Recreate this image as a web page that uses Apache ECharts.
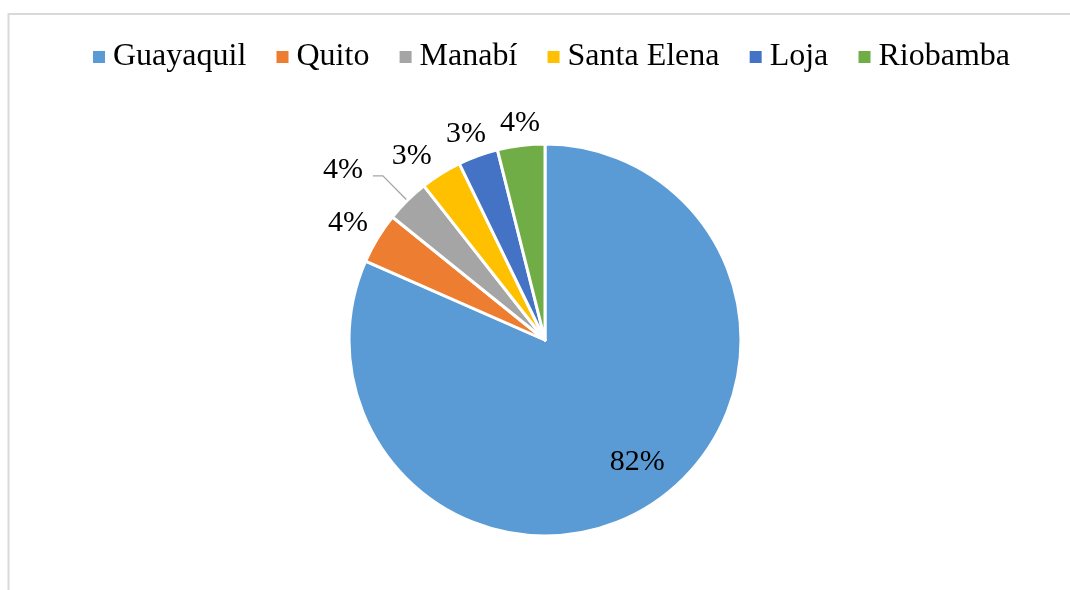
<!DOCTYPE html>
<html>
<head>
<meta charset="utf-8">
<script src="https://cdn.jsdelivr.net/npm/echarts@6/dist/echarts.min.js"></script>
<style>
html,body{margin:0;padding:0;background:#fff;}
#chart{width:1070px;height:590px;}
</style>
</head>
<body>
<div id="chart"></div>
<script>
// Data
const categories = ['Guayaquil', 'Quito', 'Manabí', 'Santa Elena', 'Loja', 'Riobamba'];
const shares = [81.6, 4.2, 3.6, 3.4, 3.3, 3.9];
const colors = ['#5B9BD5', '#ED7D31', '#A5A5A5', '#FFC000', '#4472C4', '#70AD47'];

// Label placement styles (per slice)
const labelLineLength = [0, 30.9, 34.7, 22.2, 24.2, 24.5];
const labelLineLength2 = [0, -21.8, 10, -7.6, -21.3, -26.9];
const labelShiftX = [37, 0, 0, 0, 0, 0];
const labelShiftY = [38, 1.5, -6, 1.5, 1.5, 1.5];

const chart = echarts.init(document.getElementById('chart'), null, {renderer: 'canvas'});

const data = categories.map((name, i) => {
  const item = {
    name: name,
    value: shares[i],
    itemStyle: {color: colors[i]}
  };
  if (i === 0) {
    item.label = {position: 'inside'};
    item.labelLine = {show: false};
  } else if (name === 'Manabí') {
    item.label = {position: 'outside', distanceToLabelLine: 10};
    item.labelLine = {show: true, length: labelLineLength[i], length2: labelLineLength2[i],
      lineStyle: {color: '#A5A5A5', width: 1.3}};
  } else {
    item.label = {position: 'outside'};
    item.labelLine = {show: false, length: labelLineLength[i], length2: labelLineLength2[i]};
  }
  return item;
});

chart.setOption({
  animation: false,
  backgroundColor: '#ffffff',
  graphic: [{
    type: 'rect',
    shape: {x: 8.5, y: 14, width: 1100, height: 620},
    style: {fill: 'none', stroke: '#D9D9D9', lineWidth: 2},
    silent: true,
    z: -1
  }],
  legend: {
    data: categories,
    left: 93,
    top: 41,
    padding: 0,
    icon: 'rect',
    itemWidth: 12,
    itemHeight: 12,
    itemGap: 30.2,
    itemStyle: {borderWidth: 0},
    textStyle: {
      fontFamily: '"Liberation Serif", "Times New Roman", serif',
      fontSize: 32,
      color: '#000000',
      padding: [0, 0, 0, 3]
    }
  },
  series: [{
    type: 'pie',
    center: [545, 340],
    radius: [0, 196],
    startAngle: 90,
    clockwise: true,
    avoidLabelOverlap: false,
    percentPrecision: 0,
    itemStyle: {borderColor: '#ffffff', borderWidth: 3},
    label: {
      show: true,
      formatter: '{d}%',
      fontFamily: '"Liberation Serif", "Times New Roman", serif',
      fontSize: 30,
      color: '#000000'
    },
    labelLayout: function (params) {
      return {dx: labelShiftX[params.dataIndex], dy: labelShiftY[params.dataIndex]};
    },
    emphasis: {disabled: true},
    data: data
  }]
});
</script>
</body>
</html>
